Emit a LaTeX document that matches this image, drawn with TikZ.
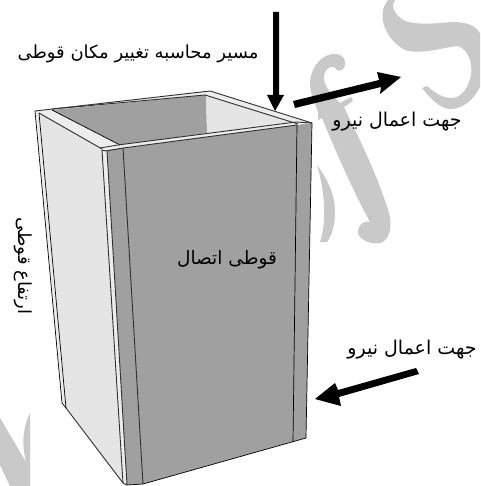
\documentclass[tikz,border=0pt]{standalone}
\usepackage{fontspec}
\newfontfamily\arabicfont[Script=Arabic]{DejaVu Sans}
\TeXXeTstate=1
\definecolor{wm}{HTML}{C9C9C9}
\definecolor{facedark}{HTML}{A0A0A0}
\definecolor{facelight}{HTML}{E5E5E5}
\definecolor{rimc}{HTML}{EDEDED}
\definecolor{edgec}{HTML}{303030}
\newcommand{\lblsize}[1]{\arabicfont\fontsize{#1}{#1}\selectfont}
\tikzset{
  watermark/.style={fill=wm,draw=none},
  dark/.style={fill=facedark,draw=none},
  light/.style={fill=facelight,draw=none},
  rim/.style={fill=rimc,draw=none},
  edge/.style={draw=edgec,line width=0.9pt,line join=round},
  thin edge/.style={draw=black,line width=0.7pt,line join=round},
  bigarrow/.style={fill=black,draw=none},
  label/.style={inner sep=0pt}
}
\begin{document}
\begin{tikzpicture}[x=1pt,y=-1pt]
\useasboundingbox (0,0) rectangle (480,486);
\clip (0,0) rectangle (480,486);
\fill[white] (0,0) rectangle (480,486);
% watermark S
\path[watermark] (395,0) .. controls (391,5) and (393,13) .. (403,20)
  .. controls (415,26) and (440,23) .. (453,22)
  .. controls (465,22) and (475,25) .. (480,33)
  -- (480,87) .. controls (473,100) and (465,106) .. (457,108)
  .. controls (447,111) and (438,108) .. (422,88)
  -- (427,86) .. controls (438,96) and (448,100) .. (457,97)
  .. controls (468,92) and (473,75) .. (471,65)
  .. controls (470,55) and (463,47) .. (458,46)
  .. controls (440,48) and (420,55) .. (405,50)
  .. controls (390,42) and (380,25) .. (383,10)
  .. controls (384,6) and (386,3) .. (388,0) -- cycle;
% watermark f
\path[watermark] (345,63) .. controls (345,55) and (337,53) .. (332,54)
  .. controls (320,56) and (311,68) .. (310,82)
  .. controls (310,95) and (315,103) .. (318,112)
  -- (318,120) -- (322,118)
  .. controls (335,150) and (355,195) .. (370,222)
  .. controls (365,220) and (358,224) .. (358,232)
  .. controls (358,240) and (372,245) .. (381,243)
  .. controls (391,238) and (392,225) .. (389,213)
  .. controls (382,190) and (370,160) .. (352,124)
  -- (344,107) -- (353,101) -- (351,97) -- (340,103)
  -- (330,92) .. controls (325,85) and (322,78) .. (325,72)
  .. controls (328,66) and (335,65) .. (337,70)
  .. controls (340,72) and (345,70) .. (345,63) -- cycle;
\path[watermark] (317,165) .. controls (328,180) and (335,195) .. (335,212)
  .. controls (335,225) and (332,235) .. (327,242)
  -- (320,242) .. controls (326,225) and (326,195) .. (317,165) -- cycle;
% watermark lower left
\path[watermark] (0,418) -- (26,462) .. controls (22,445) and (22,430) .. (30,413)
  -- (30,486) -- (10,486) -- (0,465) -- cycle;
% rim
\path[rim] (35,111) -- (210,91) -- (312,123) -- (297,125) -- (123,148) -- (102,150) -- (39,113) -- cycle;
% interior
\path[dark] (52,110) -- (206,95) -- (207,133) -- (120,145) -- cycle;
\path[light] (206,95) -- (298,124) -- (207,133) -- cycle;
\path[rim] (120,145) -- (296,122) -- (297,125) -- (123,148) -- cycle;
% left face
\path[rim] (35,111) -- (39,113) -- (66,408) -- (62,403) -- cycle;
\path[light] (39,113) -- (102,150) -- (123,483) -- (66,408) -- cycle;
\path[rim] (102,150) -- (107,150) -- (127,485) -- (123,483) -- cycle;
% front face
\path[dark] (107,150) -- (123,148) -- (297,125) -- (312,123) -- (306,438) -- (143,484) -- (127,485) -- cycle;
% edges of the rim
\draw[edge] (35,111) -- (210,91) -- (312,123);
\draw[edge] (52,109) -- (205,95) -- (298,124);
\draw[edge] (39,113) -- (102,149);
\draw[thin edge] (52,110) -- (120,145);
\draw[edge] (100,148) -- (118,145) -- (296,122) -- (312,123);
\draw[edge] (106,151) -- (123,148) -- (297,125);
\draw[edge] (102,150) -- (106,151);
% verticals
\draw[thin edge] (35,111) -- (62,403) -- (66,408);
\draw[thin edge] (39,113) -- (66,408);
\draw[edge] (102,150) -- (123,483);
\draw[edge] (107,151) -- (127,485);
\draw[edge] (123,148) -- (143,484);
\draw[thin edge] (297,125) -- (293,442);
\draw[thin edge] (312,123) -- (306,438) -- (143,484) -- (127,485);
\draw[edge] (66,408) -- (123,483) -- (127,485);
% arrows
\path[bigarrow] (273,12) -- (279,12) -- (279,95) -- (284,95) -- (275,111) -- (267,95) -- (273,95) -- cycle;
\path[bigarrow] (293,101) -- (379,80) -- (377,72) -- (401,77) -- (380,94) -- (381,87) -- (295,108) -- cycle;
\path[bigarrow] (416,368) -- (338,390) -- (335,383) -- (315,399) -- (341,406) -- (339,397) -- (419,374) -- cycle;
% labels
\node[label,font=\lblsize{18}] (pathlabel) at (138,54) {\beginR مسیر محاسبه تغییر مکان قوطی\endR};
\node[label,font=\lblsize{19}] (forcetop) at (397,122) {\beginR جهت اعمال نیرو\endR};
\node[label,font=\lblsize{18.5}] (joint) at (227,260) {\beginR قوطی اتصال\endR};
\node[label,font=\lblsize{18},rotate=-90] (height) at (23,266) {\beginR ارتفاع قوطی\endR};
\node[label,font=\lblsize{19}] (forcebottom) at (412,350) {\beginR جهت اعمال نیرو\endR};
\end{tikzpicture}
\end{document}
